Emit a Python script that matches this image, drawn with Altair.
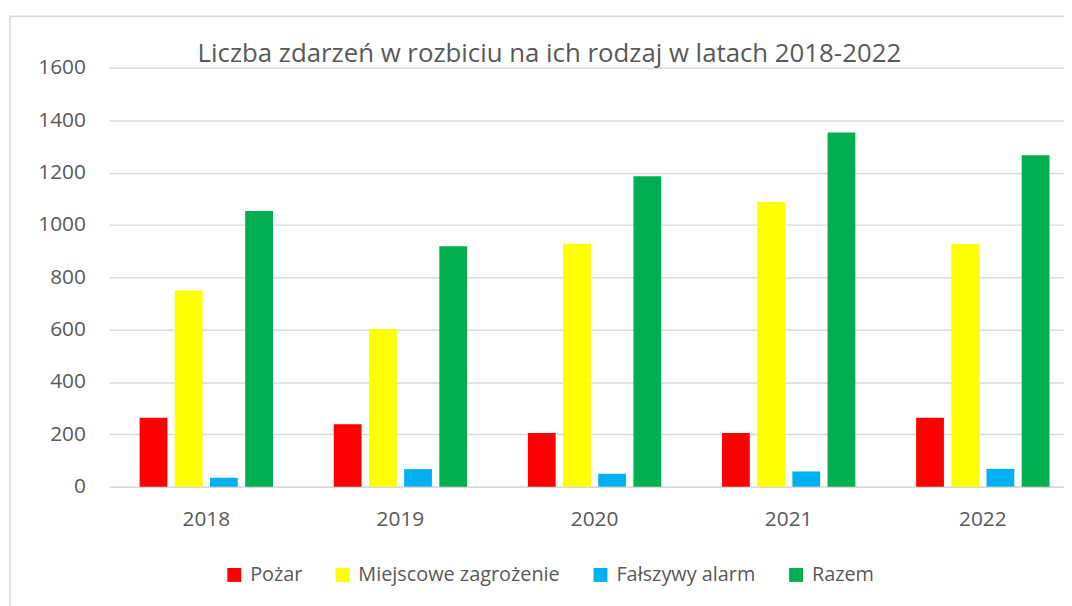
import altair as alt
import pandas as pd

years = ["2018", "2019", "2020", "2021", "2022"]
series_names = ["Pożar", "Miejscowe zagrożenie", "Fałszywy alarm", "Razem"]
pozar = [263, 238, 205, 205, 263]
miejscowe = [749, 602, 928, 1087, 927]
falszywy = [34, 67, 49, 58, 68]
razem = [1053, 918, 1186, 1353, 1266]
colors = ["#FF0000", "#FFFF00", "#00B0F0", "#00B050"]
y_ticks = [0, 200, 400, 600, 800, 1000, 1200, 1400, 1600]
title_text = "Liczba zdarzeń w rozbiciu na ich rodzaj w latach 2018-2022"

rows = []
for name, vals in zip(series_names, [pozar, miejscowe, falszywy, razem]):
    for yr, v in zip(years, vals):
        rows.append({"rok": yr, "rodzaj": name, "liczba": v})
df = pd.DataFrame(rows)

FONT = "Open Sans"
GREY = "#595959"
GRID = "#d9d9d9"

bars = alt.Chart(df).mark_bar().encode(
    x=alt.X("rok:N", sort=years, title=None,
            scale=alt.Scale(range=[0, 978], paddingInner=0.313, paddingOuter=0.1565),
            axis=alt.Axis(labelAngle=0, ticks=False, domainColor=GRID, domainWidth=1.5,
                          labelFont=FONT, labelFontSize=21, labelColor=GREY,
                          labelPadding=22)),
    xOffset=alt.XOffset("rodzaj:N", sort=series_names,
                        scale=alt.Scale(paddingInner=0.21, paddingOuter=0)),
    y=alt.Y("liczba:Q", title=None,
            scale=alt.Scale(domain=[0, 1600]),
            axis=alt.Axis(values=y_ticks, format="d", domain=False, ticks=False,
                          gridColor=GRID, gridWidth=1.5, labelFont=FONT, labelFontSize=21,
                          labelColor=GREY, labelPadding=24)),
    color=alt.Color("rodzaj:N", sort=series_names,
                    scale=alt.Scale(domain=series_names, range=colors),
                    legend=alt.Legend(title=None, orient="none", legendX=116, legendY=501,
                                      direction="horizontal", symbolType="square",
                                      symbolSize=196, symbolStrokeWidth=0,
                                      labelFont=FONT, labelFontSize=20, labelColor=GREY,
                                      labelLimit=0, columnPadding=30, labelOffset=6)),
)

border = alt.Chart(pd.DataFrame({"k": [0]})).mark_rect(
    fill="transparent", stroke=GRID, strokeWidth=1.5
).encode(
    x=alt.value(-100), x2=alt.value(1200), y=alt.value(-52), y2=alt.value(700)
)

title = alt.Chart(pd.DataFrame({"t": [title_text]})).mark_text(
    align="left", baseline="alphabetic", font=FONT, fontSize=26, color=GREY
).encode(
    text="t:N", x=alt.value(89), y=alt.value(-6)
)

chart = alt.layer(border, bars, title).properties(
    width=962, height=422,
    autosize=alt.AutoSizeParams(type="none"),
    padding={"left": 102, "top": 58, "right": 0, "bottom": 118},
).configure_view(stroke=None)

chart.save("out.html", embed_options={"renderer": "svg", "actions": False})
